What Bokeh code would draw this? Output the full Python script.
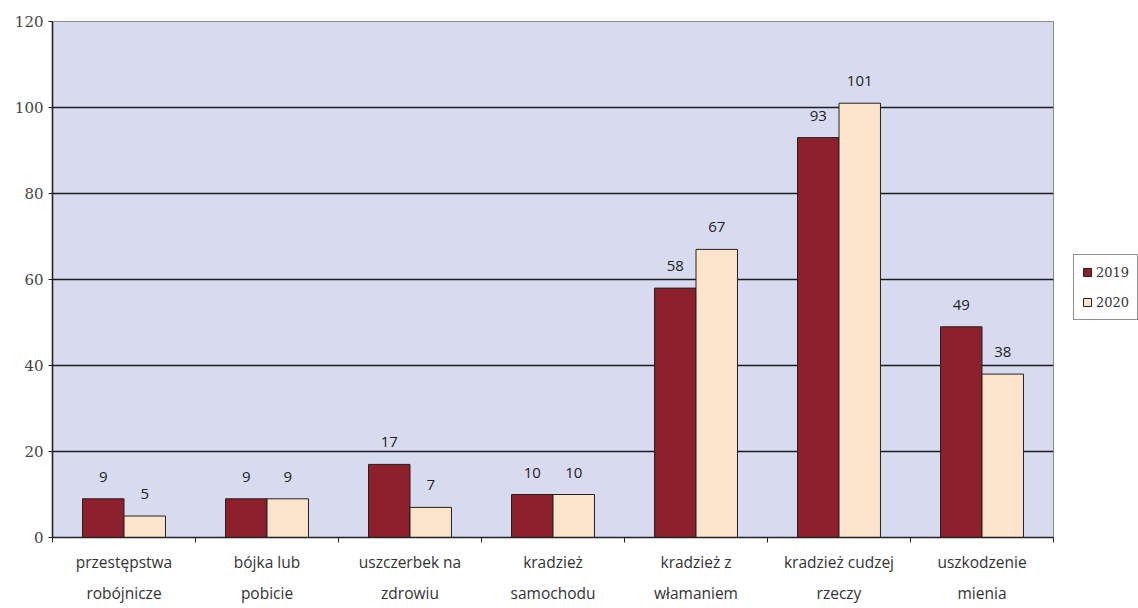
from bokeh.plotting import figure
from bokeh.models import (ColumnDataSource, FixedTicker, LinearAxis, Range1d,
                          LabelSet, Legend, LegendItem)
from bokeh.transform import dodge
from bokeh.core.properties import value
from bokeh.embed import file_html
from bokeh.resources import INLINE

categories = ["przestępstwa\nrobójnicze", "bójka lub\npobicie", "uszczerbek na\nzdrowiu",
              "kradzież\nsamochodu", "kradzież z\nwłamaniem", "kradzież cudzej\nrzeczy",
              "uszkodzenie\nmienia"]
v2019 = [9, 9, 17, 10, 58, 93, 49]
v2020 = [5, 9, 7, 10, 67, 101, 38]
series = ["2019", "2020"]
y_ticks = [0, 20, 40, 60, 80, 100, 120]

n = len(categories)
centers = [i + 0.5 for i in range(n)]
bounds = list(range(n + 1))
line1 = [c.split("\n")[0] for c in categories]
line2 = [c.split("\n")[1] for c in categories]

src = ColumnDataSource(dict(x=centers, v19=v2019, v20=v2020,
                            t19=[str(v) for v in v2019], t20=[str(v) for v in v2020]))

RED = "#8E1F2C"
CREAM = "#FCE4CC"
TXT = "#222222"

p = figure(frame_width=1001, frame_height=516, x_range=Range1d(0, n), y_range=Range1d(0, 120),
           output_backend="svg", toolbar_location=None,
           x_axis_location=None, y_axis_location=None,
           min_border_left=52, min_border_top=21, min_border_right=83, min_border_bottom=69,
           background_fill_color="#D8DBEF", border_fill_color="white",
           outline_line_color="#8a8a8a", outline_line_width=1)

p.xgrid.grid_line_color = None
p.ygrid.ticker = FixedTicker(ticks=y_ticks[1:-1])
p.ygrid.grid_line_color = "#1c1c1c"
p.ygrid.grid_line_width = 1.6

w = 0.29
off = 0.145
r1 = p.vbar(x=dodge("x", -off, range=p.x_range), top="v19", width=w, source=src,
            fill_color=RED, line_color="#222222", line_width=1)
r2 = p.vbar(x=dodge("x", off, range=p.x_range), top="v20", width=w, source=src,
            fill_color=CREAM, line_color="#222222", line_width=1)

for field, txt, o in (("v19", "t19", -off), ("v20", "t20", off)):
    p.add_layout(LabelSet(x=dodge("x", o, range=p.x_range), y=field, text=txt, source=src,
                          y_offset=22, text_align="center", text_baseline="middle",
                          text_font=value("Open Sans"), text_font_size="15px",
                          text_color=TXT))

yaxis = LinearAxis(ticker=FixedTicker(ticks=y_ticks), major_tick_out=4, major_tick_in=0,
                   minor_tick_out=0, minor_tick_in=0, axis_line_color="#222222",
                   axis_line_width=1.6, major_tick_line_color="#222222",
                   major_label_text_font="DejaVu Serif", major_label_text_font_size="15px",
                   major_label_text_color="#444444", major_label_standoff=5)
p.add_layout(yaxis, "left")

xaxis1 = LinearAxis(ticker=FixedTicker(ticks=centers, minor_ticks=bounds),
                    major_label_overrides={c: t for c, t in zip(centers, line1)},
                    major_tick_out=0, major_tick_in=0, minor_tick_out=5, minor_tick_in=0,
                    minor_tick_line_color="#222222", axis_line_color="#222222",
                    axis_line_width=1.6, major_label_standoff=8,
                    major_label_text_font="Open Sans", major_label_text_font_size="15.5px",
                    major_label_text_color="#333333")
p.add_layout(xaxis1, "below")

xaxis2 = LinearAxis(ticker=FixedTicker(ticks=centers),
                    major_label_overrides={c: t for c, t in zip(centers, line2)},
                    major_tick_out=0, major_tick_in=0, minor_tick_out=0, minor_tick_in=0,
                    axis_line_color=None, major_label_standoff=6,
                    major_label_text_font="Open Sans", major_label_text_font_size="15.5px",
                    major_label_text_color="#333333")
p.add_layout(xaxis2, "below")

legend = Legend(items=[LegendItem(label=series[0], renderers=[r1]),
                       LegendItem(label=series[1], renderers=[r2])],
                location=(20, 217), border_line_color="#222222", border_line_width=1,
                background_fill_color="white", background_fill_alpha=1,
                glyph_width=10, glyph_height=10, label_height=18,
                label_text_font="DejaVu Serif", label_text_font_size="13px",
                label_text_color="#333333", padding=8, spacing=12, label_standoff=4, margin=0)
p.add_layout(legend, "right")

open("out.html", "w").write(file_html(p, INLINE))
